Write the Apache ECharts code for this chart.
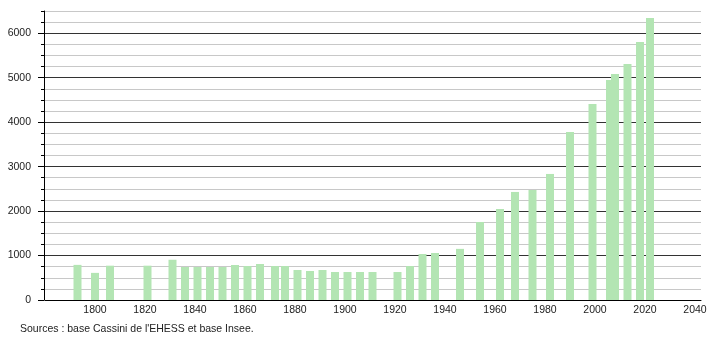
<!DOCTYPE html>
<html>
<head>
<meta charset="utf-8">
<script src="https://cdn.jsdelivr.net/npm/echarts@6/dist/echarts.min.js"></script>
<style>
html,body{margin:0;padding:0;background:#fff;}
#c{width:710px;height:340px;}
</style>
</head>
<body>
<div id="c"></div>
<script>
const years = [1793,1800,1806,1821,1831,1836,1841,1846,1851,1856,1861,1866,1872,1876,1881,1886,1891,1896,1901,1906,1911,1921,1926,1931,1936,1946,1954,1962,1968,1975,1982,1990,1999,2006,2008,2013,2018,2022];
const population = [790,610,772,772,905,742,742,742,742,787,765,810,765,765,675,652,675,630,630,630,630,630,765,1035,1057,1150,1755,2047,2430,2475,2835,3780,4409,4949,5084,5309,5804,6344];
const xTickLabels = [1800,1820,1840,1860,1880,1900,1920,1940,1960,1980,2000,2020,2040];
const yTickLabels = [0,1000,2000,3000,4000,5000,6000];
const sourceText = "Sources : base Cassini de l'EHESS et base Insee.";

const font = 'Liberation Sans, Arial, sans-serif';
const gridColors = [];
for (let i = 0; i < 27; i++) gridColors.push(i % 4 === 0 ? '#333333' : '#c8c8c8');

const chart = echarts.init(document.getElementById('c'), null, {renderer: 'canvas'});
chart.setOption({
  animation: false,
  backgroundColor: '#ffffff',
  grid: {left: 45, right: 9, top: 11, bottom: 40, containLabel: false},
  xAxis: {
    type: 'value', min: 1780, max: 2042.4, interval: 20,
    axisLine: {show: true, lineStyle: {color: '#000', width: 1}},
    axisTick: {show: false},
    splitLine: {show: false},
    axisLabel: {
      margin: 5, fontSize: 10.5, color: '#222', fontFamily: font,
      showMinLabel: false, showMaxLabel: false,
      formatter: v => xTickLabels.indexOf(v) >= 0 ? String(v) : ''
    }
  },
  yAxis: [{
    type: 'value', min: 0, max: 6500, interval: 250, offset: 1,
    axisLine: {show: true, lineStyle: {color: '#000', width: 1}},
    axisTick: {show: true, length: 3, lineStyle: {color: '#000'}},
    splitLine: {show: true, lineStyle: {color: gridColors, width: 1}},
    axisLabel: {
      margin: 13, fontSize: 10.5, color: '#222', fontFamily: font,
      formatter: v => yTickLabels.indexOf(v) >= 0 ? String(v) : ''
    }
  }, {
    type: 'value', min: 0, max: 6500, interval: 1000, position: 'left', offset: 1,
    axisLine: {show: false},
    axisTick: {show: true, length: 6, lineStyle: {color: '#000'}, customValues: yTickLabels},
    splitLine: {show: false},
    axisLabel: {show: false}
  }],
  series: [{
    type: 'bar',
    yAxisIndex: 0,
    barWidth: 8,
    itemStyle: {color: '#b3e5b3'},
    data: years.map((y, i) => [y, population[i]]),
    z: 3
  }],
  graphic: [{
    type: 'text', left: 20, top: 324,
    style: {text: sourceText, fontSize: 10.5, fill: '#222', fontFamily: font}
  }]
});
</script>
</body>
</html>
